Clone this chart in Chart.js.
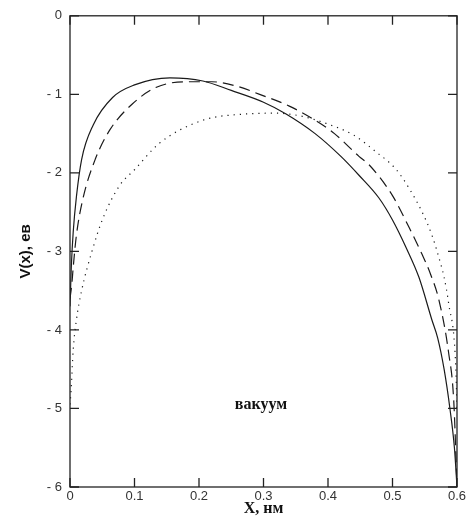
<!DOCTYPE html>
<html>
<head>
<meta charset="utf-8">
<script src="https://cdn.jsdelivr.net/npm/chart.js@4/dist/chart.umd.min.js"></script>
<style>
  html, body { margin: 0; padding: 0; background: #fff; }
  #wrap { width: 475px; height: 528px; position: relative; }
</style>
</head>
<body>
<div id="wrap"><canvas id="chart"></canvas></div>
<script>
// curve data
const xSolid = [0, 0.002, 0.005, 0.01, 0.018, 0.036, 0.066, 0.1, 0.155, 0.206, 0.25, 0.3, 0.335, 0.38, 0.42, 0.448, 0.479, 0.5, 0.521, 0.541, 0.561, 0.57, 0.58, 0.589, 0.596, 0.6];
const ySolid = [-3.7, -3.2, -2.75, -2.3, -1.83, -1.39, -1.04, -0.88, -0.79, -0.83, -0.95, -1.1, -1.25, -1.5, -1.79, -2.03, -2.32, -2.6, -2.95, -3.33, -3.87, -4.1, -4.5, -5.0, -5.5, -6];

const xDashed = [0, 0.003, 0.005, 0.01, 0.02, 0.039, 0.062, 0.097, 0.134, 0.18, 0.22, 0.26, 0.294, 0.34, 0.376, 0.41, 0.448, 0.464, 0.5, 0.526, 0.546, 0.559, 0.572, 0.587, 0.595, 0.6];
const yDashed = [-3.6, -3.4, -3.2, -2.79, -2.33, -1.83, -1.45, -1.12, -0.91, -0.84, -0.84, -0.9, -1.0, -1.15, -1.31, -1.5, -1.79, -1.9, -2.29, -2.7, -3.04, -3.29, -3.62, -4.29, -4.91, -6];

const xDotted = [0, 0.0015, 0.005, 0.01, 0.018, 0.034, 0.051, 0.077, 0.1, 0.139, 0.206, 0.273, 0.32, 0.36, 0.397, 0.44, 0.474, 0.505, 0.526, 0.546, 0.561, 0.572, 0.58, 0.587, 0.598, 0.6];
const yDotted = [-4.95, -4.79, -4.25, -3.87, -3.5, -3.0, -2.58, -2.16, -1.96, -1.62, -1.33, -1.25, -1.24, -1.28, -1.37, -1.52, -1.73, -1.95, -2.2, -2.5, -2.79, -3.08, -3.33, -3.66, -4.45, -5.0];

const xTicks = [0, 0.1, 0.2, 0.3, 0.4, 0.5, 0.6];
const yTicks = [-6, -5, -4, -3, -2, -1, 0];

const label = 'вакуум';
const xTitle = 'X, нм';
const yTitle = 'V(x), eв';

function pts(xs, ys) {
  return xs.map((x, i) => ({ x: x, y: ys[i] }));
}

function line(data, dash) {
  return {
    data: data,
    borderColor: '#1a1a1a',
    borderWidth: 1.2,
    borderDash: dash,
    pointRadius: 0,
    fill: false,
    cubicInterpolationMode: 'monotone'
  };
}

// box frame with inward ticks on all four sides, plus the text label
const framePlugin = {
  id: 'frame',
  afterDraw(chart) {
    const ctx = chart.ctx;
    const a = chart.chartArea;
    const xs = chart.scales.x, ys = chart.scales.y;
    const len = 9;
    ctx.save();
    ctx.strokeStyle = '#222';
    ctx.lineWidth = 1.3;
    ctx.strokeRect(a.left, a.top, a.right - a.left, a.bottom - a.top);
    ctx.beginPath();
    xTicks.forEach(v => {
      const px = xs.getPixelForValue(v);
      ctx.moveTo(px, a.bottom); ctx.lineTo(px, a.bottom - len);
      ctx.moveTo(px, a.top); ctx.lineTo(px, a.top + len);
    });
    yTicks.forEach(v => {
      const py = ys.getPixelForValue(v);
      ctx.moveTo(a.left, py); ctx.lineTo(a.left + len, py);
      ctx.moveTo(a.right, py); ctx.lineTo(a.right - len, py);
    });
    ctx.stroke();

    ctx.fillStyle = '#111';
    ctx.font = 'bold 16px "Liberation Serif", serif';
    ctx.textAlign = 'center';
    ctx.textBaseline = 'middle';
    ctx.fillText(label, xs.getPixelForValue(0.296), ys.getPixelForValue(-4.96));
    ctx.restore();
  }
};

const ctx = document.getElementById('chart').getContext('2d');
new Chart(ctx, {
  type: 'line',
  data: {
    datasets: [
      line(pts(xSolid, ySolid), []),
      line(pts(xDashed, yDashed), [11, 6]),
      line(pts(xDotted, yDotted), [1.2, 5])
    ]
  },
  options: {
    responsive: true,
    maintainAspectRatio: false,
    animation: false,
    layout: { padding: { top: 7, right: 18, left: 0, bottom: 0 } },
    plugins: { legend: { display: false }, tooltip: { enabled: false } },
    scales: {
      x: {
        type: 'linear',
        min: 0,
        max: 0.6,
        afterBuildTicks(scale) { scale.ticks = xTicks.map(v => ({ value: v })); },
        afterFit(scale) { scale.height = 41; },
        grid: { display: false, drawTicks: false, tickLength: 0 },
        border: { display: false },
        ticks: {
          padding: 2,
          color: '#333',
          font: { family: '"Liberation Sans", Arial, sans-serif', size: 13 },
          callback: v => (v === 0 ? '0' : v.toFixed(1))
        },
        title: {
          display: true,
          text: xTitle,
          color: '#111',
          padding: { top: 0, bottom: 10 },
          font: { family: '"Liberation Serif", serif', size: 16, weight: 'bold' }
        }
      },
      y: {
        type: 'linear',
        min: -6,
        max: 0,
        afterBuildTicks(scale) { scale.ticks = yTicks.map(v => ({ value: v })); },
        afterFit(scale) { scale.width = 70; },
        grid: { display: false, drawTicks: false, tickLength: 0 },
        border: { display: false },
        ticks: {
          padding: 8,
          color: '#333',
          font: { family: '"Liberation Sans", Arial, sans-serif', size: 13 },
          callback: v => (v === 0 ? '0' : '- ' + Math.abs(v))
        },
        title: {
          display: true,
          text: yTitle,
          color: '#111',
          padding: { top: 17, bottom: 0 },
          font: { family: '"Liberation Sans", Arial, sans-serif', size: 15, weight: 'bold' }
        }
      }
    }
  },
  plugins: [framePlugin]
});
</script>
</body>
</html>
